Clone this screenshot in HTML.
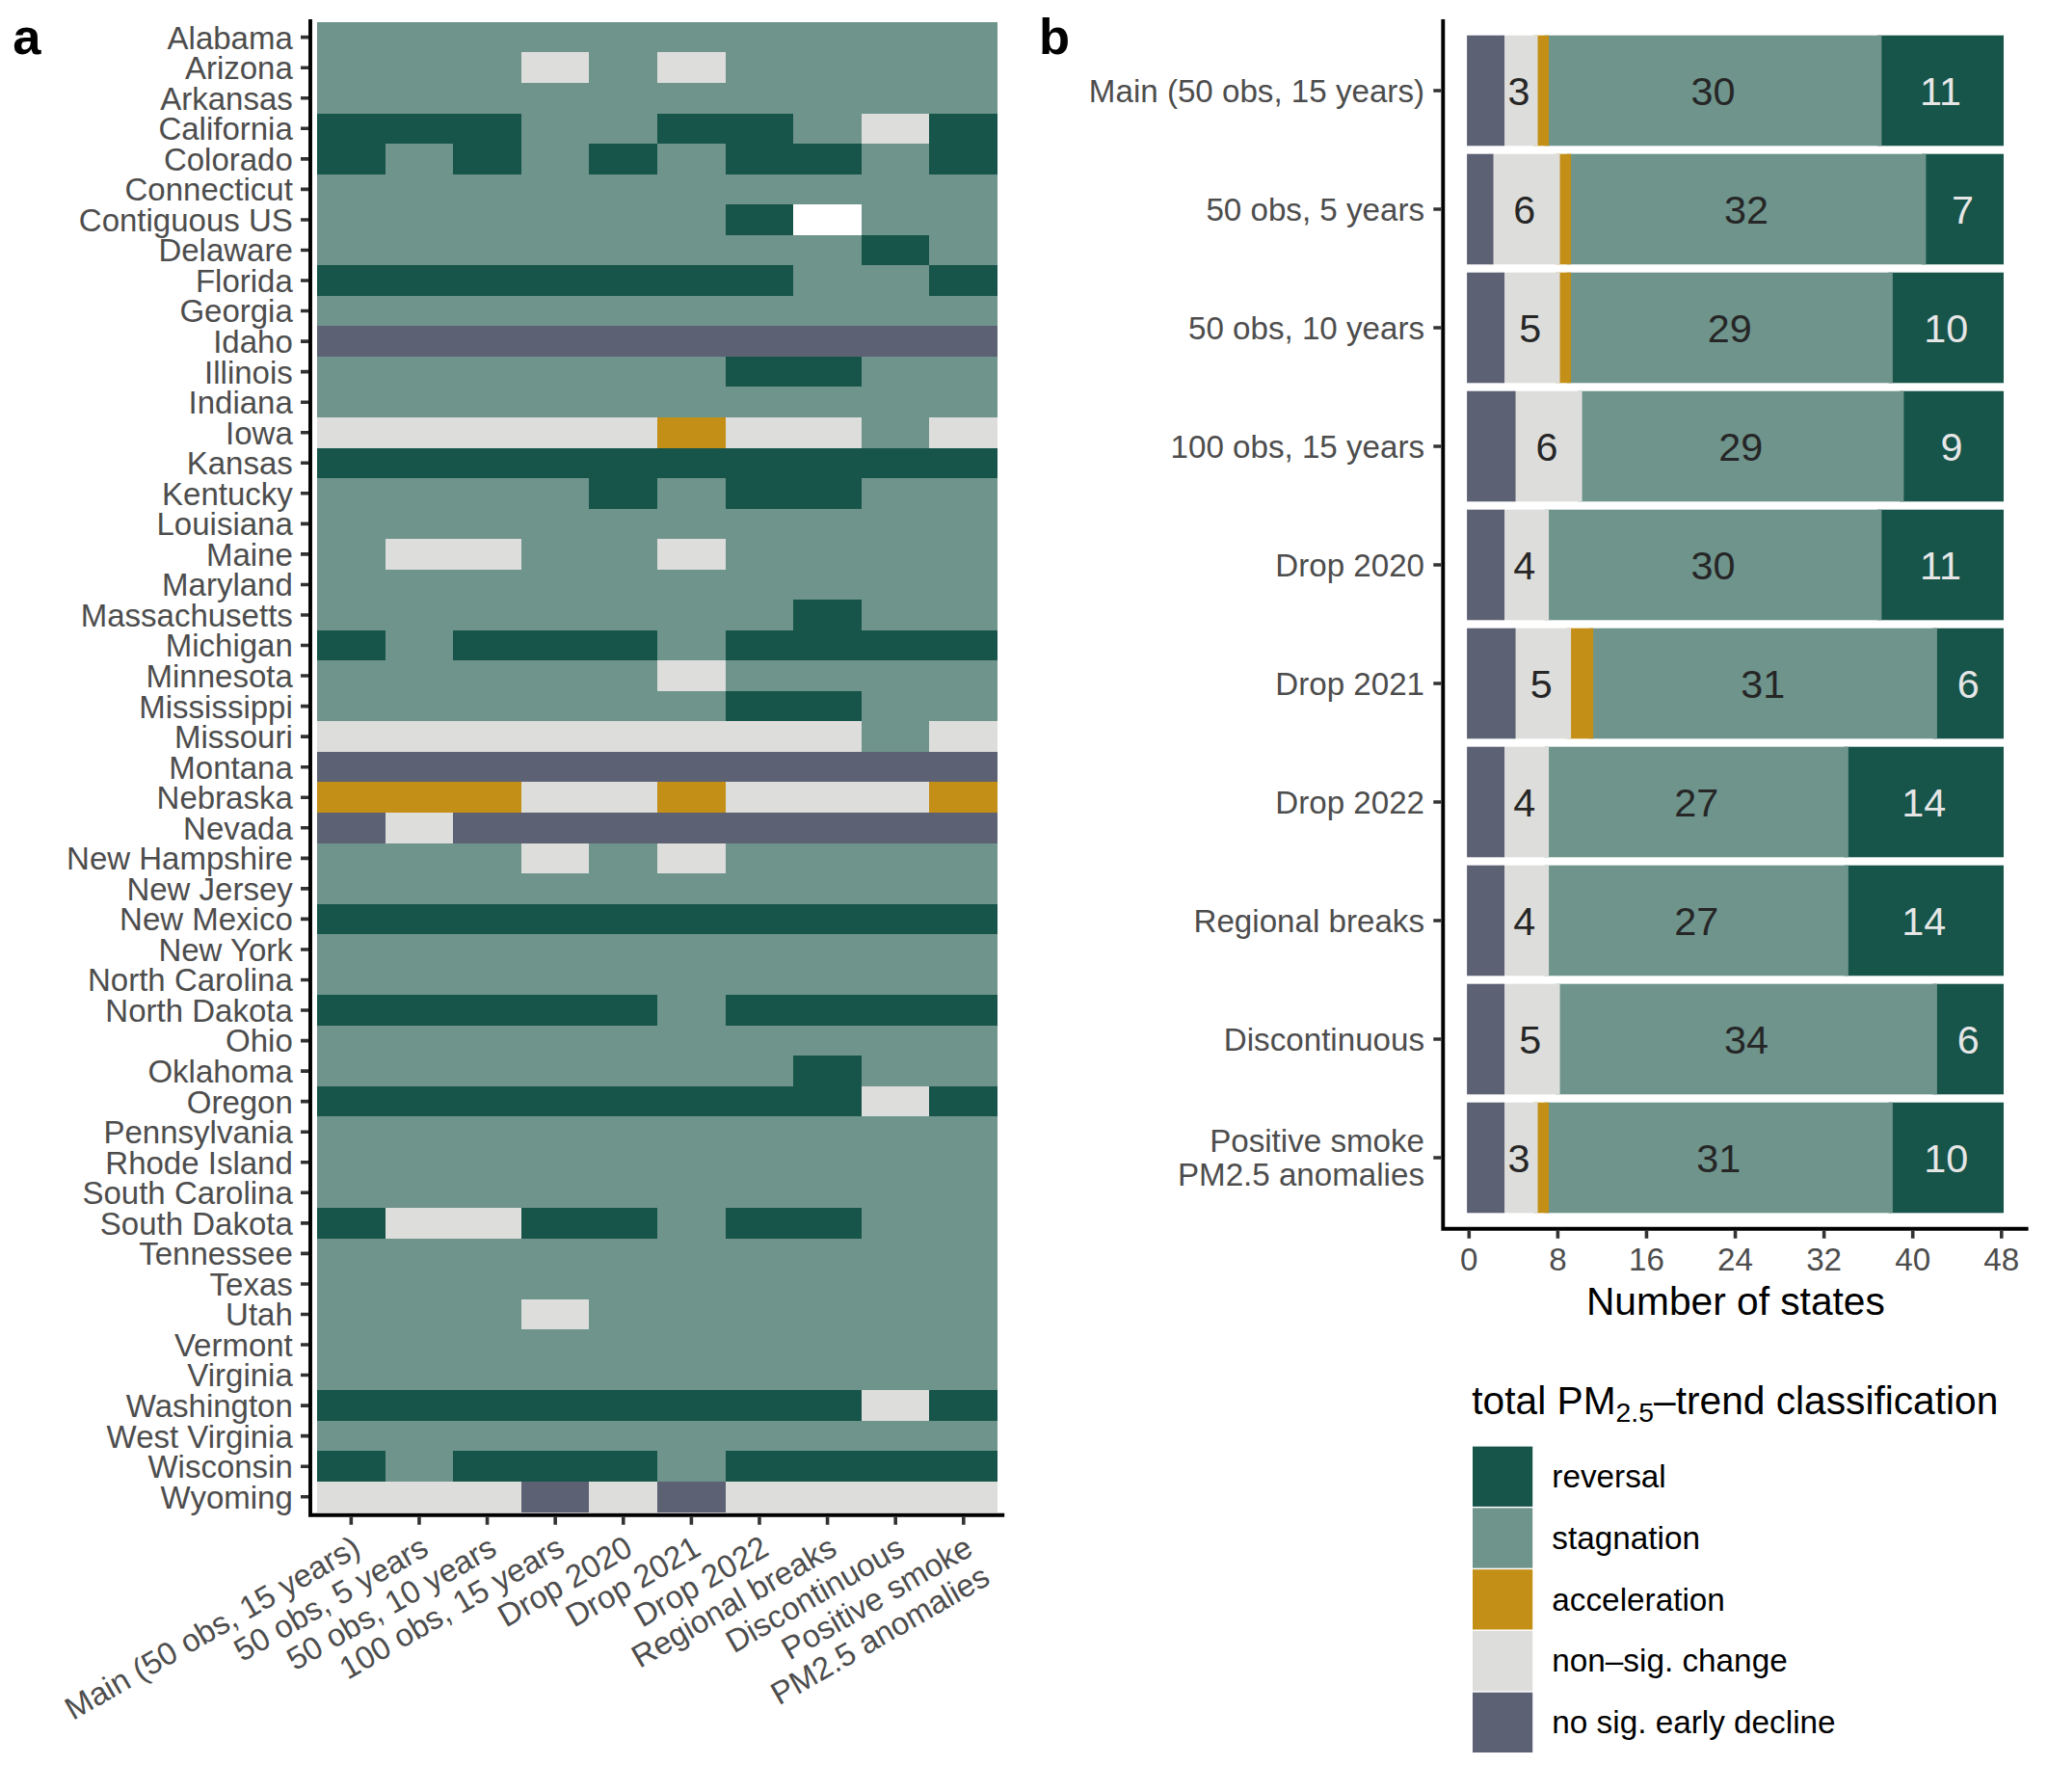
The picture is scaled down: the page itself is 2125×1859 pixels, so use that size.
<!DOCTYPE html>
<html lang="en"><head><meta charset="utf-8"><title>PM2.5 trend classification robustness</title>
<style>
html,body{margin:0;padding:0;background:#fff;}
body{width:2125px;height:1859px;overflow:hidden;}
svg{display:block;}
text{font-family:"Liberation Sans",sans-serif;}
.ax{font-size:33px;fill:#4d4d4d;}
.ttl{font-size:40.7px;fill:#000;}
.lg{font-size:33.3px;fill:#000;}
.axb{font-size:33.15px;fill:#4d4d4d;}
.tag{font-size:52.5px;font-weight:bold;fill:#000;}
.bl{font-size:41.3px;text-anchor:middle;}
.e{text-anchor:end;}.m{text-anchor:middle;}
</style></head><body>
<svg width="2125" height="1859" viewBox="0 0 2125 1859">
<rect x="0" y="0" width="2125" height="1859" fill="#fff"/>
<g id="panel-a">
<g id="heatmap" shape-rendering="crispEdges">
<path fill="#6e948c" d="M329.05 22.9H1035.1V1536.96H329.05Z"/>
<path fill="#175449" d="M329.05 117.53H540.87V149.07H329.05ZM682.08 117.53H823.28V149.07H682.08ZM964.49 117.53H1035.1V149.07H964.49ZM329.05 149.07H399.65V180.61H329.05ZM470.26 149.07H540.87V180.61H470.26ZM611.47 149.07H682.08V180.61H611.47ZM752.68 149.07H893.89V180.61H752.68ZM964.49 149.07H1035.1V180.61H964.49ZM752.68 212.16H823.28V243.7H752.68ZM893.89 243.7H964.49V275.24H893.89ZM329.05 275.24H823.28V306.79H329.05ZM964.49 275.24H1035.1V306.79H964.49ZM752.68 369.87H893.89V401.41H752.68ZM329.05 464.5H1035.1V496.04H329.05ZM611.47 496.04H682.08V527.59H611.47ZM752.68 496.04H893.89V527.59H752.68ZM823.28 622.21H893.89V653.76H823.28ZM329.05 653.76H399.65V685.3H329.05ZM470.26 653.76H682.08V685.3H470.26ZM752.68 653.76H1035.1V685.3H752.68ZM752.68 716.84H893.89V748.39H752.68ZM329.05 937.64H1035.1V969.19H329.05ZM329.05 1032.27H682.08V1063.81H329.05ZM752.68 1032.27H1035.1V1063.81H752.68ZM823.28 1095.36H893.89V1126.9H823.28ZM329.05 1126.9H893.89V1158.44H329.05ZM964.49 1126.9H1035.1V1158.44H964.49ZM329.05 1253.07H399.65V1284.61H329.05ZM540.87 1253.07H682.08V1284.61H540.87ZM752.68 1253.07H893.89V1284.61H752.68ZM329.05 1442.33H893.89V1473.87H329.05ZM964.49 1442.33H1035.1V1473.87H964.49ZM329.05 1505.41H399.65V1536.96H329.05ZM470.26 1505.41H682.08V1536.96H470.26ZM752.68 1505.41H1035.1V1536.96H752.68Z"/>
<path fill="#dddddb" d="M540.87 54.44H611.47V85.99H540.87ZM682.08 54.44H752.68V85.99H682.08ZM893.89 117.53H964.49V149.07H893.89ZM329.05 432.96H682.08V464.5H329.05ZM752.68 432.96H893.89V464.5H752.68ZM964.49 432.96H1035.1V464.5H964.49ZM399.65 559.13H540.87V590.67H399.65ZM682.08 559.13H752.68V590.67H682.08ZM682.08 685.3H752.68V716.84H682.08ZM329.05 748.39H893.89V779.93H329.05ZM964.49 748.39H1035.1V779.93H964.49ZM540.87 811.47H682.08V843.01H540.87ZM752.68 811.47H964.49V843.01H752.68ZM399.65 843.01H470.26V874.56H399.65ZM540.87 874.56H611.47V906.1H540.87ZM682.08 874.56H752.68V906.1H682.08ZM893.89 1126.9H964.49V1158.44H893.89ZM399.65 1253.07H540.87V1284.61H399.65ZM540.87 1347.7H611.47V1379.24H540.87ZM893.89 1442.33H964.49V1473.87H893.89ZM329.05 1536.96H540.87V1568.5H329.05ZM611.47 1536.96H682.08V1568.5H611.47ZM752.68 1536.96H1035.1V1568.5H752.68Z"/>
<path fill="#c38f16" d="M682.08 432.96H752.68V464.5H682.08ZM329.05 811.47H540.87V843.01H329.05ZM682.08 811.47H752.68V843.01H682.08ZM964.49 811.47H1035.1V843.01H964.49Z"/>
<path fill="#5d6174" d="M329.05 338.33H1035.1V369.87H329.05ZM329.05 779.93H1035.1V811.47H329.05ZM329.05 843.01H399.65V874.56H329.05ZM470.26 843.01H1035.1V874.56H470.26ZM540.87 1536.96H611.47V1568.5H540.87ZM682.08 1536.96H752.68V1568.5H682.08Z"/>
<path fill="#ffffff" d="M823.28 212.16H893.89V243.7H823.28Z"/>
</g>
<g stroke="#000" stroke-width="3.9" fill="none">
<path d="M322 20 V1571.75 H1042.2"/>
</g>
<g stroke="#333333" stroke-width="3.6">
<path d="M312 38.67H320.1M312 70.21H320.1M312 101.76H320.1M312 133.3H320.1M312 164.84H320.1M312 196.39H320.1M312 227.93H320.1M312 259.47H320.1M312 291.01H320.1M312 322.56H320.1M312 354.1H320.1M312 385.64H320.1M312 417.19H320.1M312 448.73H320.1M312 480.27H320.1M312 511.81H320.1M312 543.36H320.1M312 574.9H320.1M312 606.44H320.1M312 637.99H320.1M312 669.53H320.1M312 701.07H320.1M312 732.61H320.1M312 764.16H320.1M312 795.7H320.1M312 827.24H320.1M312 858.79H320.1M312 890.33H320.1M312 921.87H320.1M312 953.41H320.1M312 984.96H320.1M312 1016.5H320.1M312 1048.04H320.1M312 1079.59H320.1M312 1111.13H320.1M312 1142.67H320.1M312 1174.21H320.1M312 1205.76H320.1M312 1237.3H320.1M312 1268.84H320.1M312 1300.39H320.1M312 1331.93H320.1M312 1363.47H320.1M312 1395.01H320.1M312 1426.56H320.1M312 1458.1H320.1M312 1489.64H320.1M312 1521.19H320.1M312 1552.73H320.1M364.35 1573.65V1581.75M434.96 1573.65V1581.75M505.56 1573.65V1581.75M576.17 1573.65V1581.75M646.77 1573.65V1581.75M717.38 1573.65V1581.75M787.98 1573.65V1581.75M858.59 1573.65V1581.75M929.19 1573.65V1581.75M999.8 1573.65V1581.75"/>
</g>
<g class="ax e">
<text x="303.8" y="50.57">Alabama</text>
<text x="303.8" y="82.11">Arizona</text>
<text x="303.8" y="113.66">Arkansas</text>
<text x="303.8" y="145.2">California</text>
<text x="303.8" y="176.74">Colorado</text>
<text x="303.8" y="208.29">Connecticut</text>
<text x="303.8" y="239.83">Contiguous US</text>
<text x="303.8" y="271.37">Delaware</text>
<text x="303.8" y="302.91">Florida</text>
<text x="303.8" y="334.46">Georgia</text>
<text x="303.8" y="366">Idaho</text>
<text x="303.8" y="397.54">Illinois</text>
<text x="303.8" y="429.09">Indiana</text>
<text x="303.8" y="460.63">Iowa</text>
<text x="303.8" y="492.17">Kansas</text>
<text x="303.8" y="523.71">Kentucky</text>
<text x="303.8" y="555.26">Louisiana</text>
<text x="303.8" y="586.8">Maine</text>
<text x="303.8" y="618.34">Maryland</text>
<text x="303.8" y="649.89">Massachusetts</text>
<text x="303.8" y="681.43">Michigan</text>
<text x="303.8" y="712.97">Minnesota</text>
<text x="303.8" y="744.51">Mississippi</text>
<text x="303.8" y="776.06">Missouri</text>
<text x="303.8" y="807.6">Montana</text>
<text x="303.8" y="839.14">Nebraska</text>
<text x="303.8" y="870.69">Nevada</text>
<text x="303.8" y="902.23">New Hampshire</text>
<text x="303.8" y="933.77">New Jersey</text>
<text x="303.8" y="965.31">New Mexico</text>
<text x="303.8" y="996.86">New York</text>
<text x="303.8" y="1028.4">North Carolina</text>
<text x="303.8" y="1059.94">North Dakota</text>
<text x="303.8" y="1091.49">Ohio</text>
<text x="303.8" y="1123.03">Oklahoma</text>
<text x="303.8" y="1154.57">Oregon</text>
<text x="303.8" y="1186.11">Pennsylvania</text>
<text x="303.8" y="1217.66">Rhode Island</text>
<text x="303.8" y="1249.2">South Carolina</text>
<text x="303.8" y="1280.74">South Dakota</text>
<text x="303.8" y="1312.29">Tennessee</text>
<text x="303.8" y="1343.83">Texas</text>
<text x="303.8" y="1375.37">Utah</text>
<text x="303.8" y="1406.91">Vermont</text>
<text x="303.8" y="1438.46">Virginia</text>
<text x="303.8" y="1470">Washington</text>
<text x="303.8" y="1501.54">West Virginia</text>
<text x="303.8" y="1533.09">Wisconsin</text>
<text x="303.8" y="1564.63">Wyoming</text>
</g>
<g class="ax e">
<g transform="translate(364.35 1591.5) rotate(-30)">
<text x="0" y="23.4">Main (50 obs, 15 years)</text>
</g>
<g transform="translate(434.96 1591.5) rotate(-30)">
<text x="0" y="23.4">50 obs, 5 years</text>
</g>
<g transform="translate(505.56 1591.5) rotate(-30)">
<text x="0" y="23.4">50 obs, 10 years</text>
</g>
<g transform="translate(576.17 1591.5) rotate(-30)">
<text x="0" y="23.4">100 obs, 15 years</text>
</g>
<g transform="translate(646.77 1591.5) rotate(-30)">
<text x="0" y="23.4">Drop 2020</text>
</g>
<g transform="translate(717.38 1591.5) rotate(-30)">
<text x="0" y="23.4">Drop 2021</text>
</g>
<g transform="translate(787.98 1591.5) rotate(-30)">
<text x="0" y="23.4">Drop 2022</text>
</g>
<g transform="translate(858.59 1591.5) rotate(-30)">
<text x="0" y="23.4">Regional breaks</text>
</g>
<g transform="translate(929.19 1591.5) rotate(-30)">
<text x="0" y="23.4">Discontinuous</text>
</g>
<g transform="translate(999.8 1591.5) rotate(-30)">
<text x="0" y="23.4">Positive smoke</text>
<text x="0" y="58.4">PM2.5 anomalies</text>
</g>
</g>
<text class="tag" x="13.2" y="55.7">a</text>
</g>
<g id="panel-b">
<rect x="1947.97" y="36.7" width="131.01" height="114.6" fill="#175449"/>
<rect x="1602.67" y="36.7" width="349.7" height="114.6" fill="#6e948c"/>
<rect x="1591.16" y="36.7" width="15.91" height="114.6" fill="#c38f16"/>
<rect x="1556.63" y="36.7" width="38.93" height="114.6" fill="#dddddb"/>
<rect x="1522.1" y="36.7" width="38.93" height="114.6" fill="#5d6174"/>
<text class="bl" x="1576.1" y="109.3" fill="#262626">3</text>
<text class="bl" x="1777.52" y="109.3" fill="#262626">30</text>
<text class="bl" x="2013.47" y="109.3" fill="#e6e6e6">11</text>
<rect x="1994.01" y="159.7" width="84.97" height="114.6" fill="#175449"/>
<rect x="1625.69" y="159.7" width="372.72" height="114.6" fill="#6e948c"/>
<rect x="1614.18" y="159.7" width="15.91" height="114.6" fill="#c38f16"/>
<rect x="1545.12" y="159.7" width="73.46" height="114.6" fill="#dddddb"/>
<rect x="1522.1" y="159.7" width="27.42" height="114.6" fill="#5d6174"/>
<text class="bl" x="1581.85" y="232.3" fill="#262626">6</text>
<text class="bl" x="1812.05" y="232.3" fill="#262626">32</text>
<text class="bl" x="2036.49" y="232.3" fill="#e6e6e6">7</text>
<rect x="1959.48" y="282.7" width="119.5" height="114.6" fill="#175449"/>
<rect x="1625.69" y="282.7" width="338.19" height="114.6" fill="#6e948c"/>
<rect x="1614.18" y="282.7" width="15.91" height="114.6" fill="#c38f16"/>
<rect x="1556.63" y="282.7" width="61.95" height="114.6" fill="#dddddb"/>
<rect x="1522.1" y="282.7" width="38.93" height="114.6" fill="#5d6174"/>
<text class="bl" x="1587.61" y="355.3" fill="#262626">5</text>
<text class="bl" x="1794.78" y="355.3" fill="#262626">29</text>
<text class="bl" x="2019.23" y="355.3" fill="#e6e6e6">10</text>
<rect x="1970.99" y="405.7" width="107.99" height="114.6" fill="#175449"/>
<rect x="1637.2" y="405.7" width="338.19" height="114.6" fill="#6e948c"/>
<rect x="1568.14" y="405.7" width="73.46" height="114.6" fill="#dddddb"/>
<rect x="1522.1" y="405.7" width="50.44" height="114.6" fill="#5d6174"/>
<text class="bl" x="1604.87" y="478.3" fill="#262626">6</text>
<text class="bl" x="1806.3" y="478.3" fill="#262626">29</text>
<text class="bl" x="2024.98" y="478.3" fill="#e6e6e6">9</text>
<rect x="1947.97" y="528.7" width="131.01" height="114.6" fill="#175449"/>
<rect x="1602.67" y="528.7" width="349.7" height="114.6" fill="#6e948c"/>
<rect x="1556.63" y="528.7" width="50.44" height="114.6" fill="#dddddb"/>
<rect x="1522.1" y="528.7" width="38.93" height="114.6" fill="#5d6174"/>
<text class="bl" x="1581.85" y="601.3" fill="#262626">4</text>
<text class="bl" x="1777.52" y="601.3" fill="#262626">30</text>
<text class="bl" x="2013.47" y="601.3" fill="#e6e6e6">11</text>
<rect x="2005.52" y="651.7" width="73.46" height="114.6" fill="#175449"/>
<rect x="1648.71" y="651.7" width="361.21" height="114.6" fill="#6e948c"/>
<rect x="1625.69" y="651.7" width="27.42" height="114.6" fill="#c38f16"/>
<rect x="1568.14" y="651.7" width="61.95" height="114.6" fill="#dddddb"/>
<rect x="1522.1" y="651.7" width="50.44" height="114.6" fill="#5d6174"/>
<text class="bl" x="1599.12" y="724.3" fill="#262626">5</text>
<text class="bl" x="1829.32" y="724.3" fill="#262626">31</text>
<text class="bl" x="2042.25" y="724.3" fill="#e6e6e6">6</text>
<rect x="1913.44" y="774.7" width="165.54" height="114.6" fill="#175449"/>
<rect x="1602.67" y="774.7" width="315.17" height="114.6" fill="#6e948c"/>
<rect x="1556.63" y="774.7" width="50.44" height="114.6" fill="#dddddb"/>
<rect x="1522.1" y="774.7" width="38.93" height="114.6" fill="#5d6174"/>
<text class="bl" x="1581.85" y="847.3" fill="#262626">4</text>
<text class="bl" x="1760.25" y="847.3" fill="#262626">27</text>
<text class="bl" x="1996.21" y="847.3" fill="#e6e6e6">14</text>
<rect x="1913.44" y="897.7" width="165.54" height="114.6" fill="#175449"/>
<rect x="1602.67" y="897.7" width="315.17" height="114.6" fill="#6e948c"/>
<rect x="1556.63" y="897.7" width="50.44" height="114.6" fill="#dddddb"/>
<rect x="1522.1" y="897.7" width="38.93" height="114.6" fill="#5d6174"/>
<text class="bl" x="1581.85" y="970.3" fill="#262626">4</text>
<text class="bl" x="1760.25" y="970.3" fill="#262626">27</text>
<text class="bl" x="1996.21" y="970.3" fill="#e6e6e6">14</text>
<rect x="2005.52" y="1020.7" width="73.46" height="114.6" fill="#175449"/>
<rect x="1614.18" y="1020.7" width="395.74" height="114.6" fill="#6e948c"/>
<rect x="1556.63" y="1020.7" width="61.95" height="114.6" fill="#dddddb"/>
<rect x="1522.1" y="1020.7" width="38.93" height="114.6" fill="#5d6174"/>
<text class="bl" x="1587.61" y="1093.3" fill="#262626">5</text>
<text class="bl" x="1812.05" y="1093.3" fill="#262626">34</text>
<text class="bl" x="2042.25" y="1093.3" fill="#e6e6e6">6</text>
<rect x="1959.48" y="1143.7" width="119.5" height="114.6" fill="#175449"/>
<rect x="1602.67" y="1143.7" width="361.21" height="114.6" fill="#6e948c"/>
<rect x="1591.16" y="1143.7" width="15.91" height="114.6" fill="#c38f16"/>
<rect x="1556.63" y="1143.7" width="38.93" height="114.6" fill="#dddddb"/>
<rect x="1522.1" y="1143.7" width="38.93" height="114.6" fill="#5d6174"/>
<text class="bl" x="1576.1" y="1216.3" fill="#262626">3</text>
<text class="bl" x="1783.28" y="1216.3" fill="#262626">31</text>
<text class="bl" x="2019.23" y="1216.3" fill="#e6e6e6">10</text>
<g stroke="#000" stroke-width="3.9" fill="none">
<path d="M1497.3 20 V1274.8 H2104.6"/>
</g>
<g stroke="#333333" stroke-width="3.6">
<path d="M1487.3 94H1495.4M1487.3 217H1495.4M1487.3 340H1495.4M1487.3 463H1495.4M1487.3 586H1495.4M1487.3 709H1495.4M1487.3 832H1495.4M1487.3 955H1495.4M1487.3 1078H1495.4M1487.3 1201H1495.4M1524.3 1276.7V1284.8M1616.38 1276.7V1284.8M1708.46 1276.7V1284.8M1800.54 1276.7V1284.8M1892.62 1276.7V1284.8M1984.7 1276.7V1284.8M2076.78 1276.7V1284.8"/>
</g>
<g class="axb e">
<text x="1478" y="105.9">Main (50 obs, 15 years)</text>
<text x="1478" y="228.9">50 obs, 5 years</text>
<text x="1478" y="351.9">50 obs, 10 years</text>
<text x="1478" y="474.9">100 obs, 15 years</text>
<text x="1478" y="597.9">Drop 2020</text>
<text x="1478" y="720.9">Drop 2021</text>
<text x="1478" y="843.9">Drop 2022</text>
<text x="1478" y="966.9">Regional breaks</text>
<text x="1478" y="1089.9">Discontinuous</text>
<text x="1478" y="1195.4">Positive smoke</text>
<text x="1478" y="1230.3">PM2.5 anomalies</text>
</g>
<g class="axb m">
<text x="1524.3" y="1318">0</text>
<text x="1616.38" y="1318">8</text>
<text x="1708.46" y="1318">16</text>
<text x="1800.54" y="1318">24</text>
<text x="1892.62" y="1318">32</text>
<text x="1984.7" y="1318">40</text>
<text x="2076.78" y="1318">48</text>
</g>
<text class="ttl m" x="1800.9" y="1364">Number of states</text>
<text class="tag" x="1077.9" y="55.7">b</text>
</g>
<g id="legend">
<text class="ttl" x="1527.3" y="1467.2">total PM<tspan dy="7.3" font-size="28.4px">2.5</tspan><tspan dy="-7.3">–trend classification</tspan></text>
<rect x="1528" y="1500.6" width="62.2" height="62.3" fill="#175449"/>
<text class="lg" x="1610.3" y="1543.15">reversal</text>
<rect x="1528" y="1564.38" width="62.2" height="62.3" fill="#6e948c"/>
<text class="lg" x="1610.3" y="1606.93">stagnation</text>
<rect x="1528" y="1628.16" width="62.2" height="62.3" fill="#c38f16"/>
<text class="lg" x="1610.3" y="1670.71">acceleration</text>
<rect x="1528" y="1691.94" width="62.2" height="62.3" fill="#dddddb"/>
<text class="lg" x="1610.3" y="1734.49">non–sig. change</text>
<rect x="1528" y="1755.72" width="62.2" height="62.3" fill="#5d6174"/>
<text class="lg" x="1610.3" y="1798.27">no sig. early decline</text>
</g>
</svg>
</body></html>
